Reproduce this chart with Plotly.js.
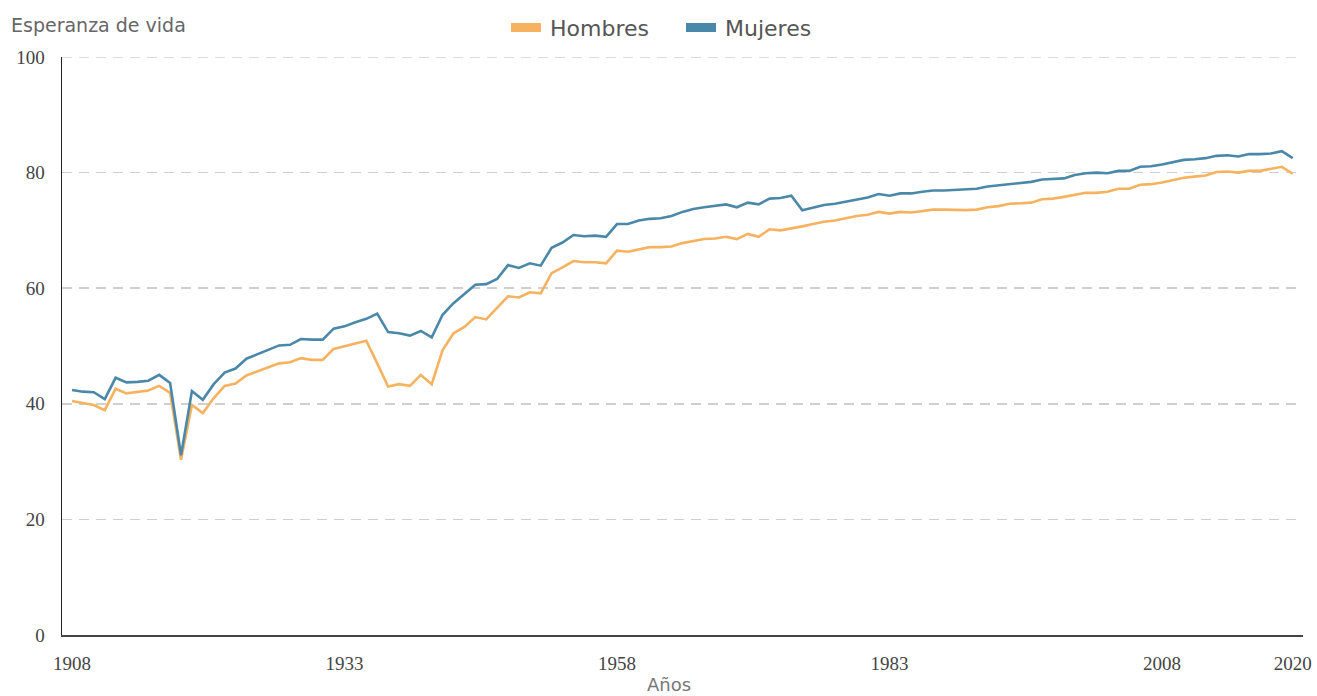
<!DOCTYPE html>
<html><head><meta charset="utf-8">
<script src="https://cdn.plot.ly/plotly-3.0.1.min.js"></script>
<style>html,body{margin:0;padding:0;background:#fff}#chart{width:1317px;height:696px}</style>
</head><body><div id="chart"></div>
<script>
const years = [1908,1909,1910,1911,1912,1913,1914,1915,1916,1917,1918,1919,1920,1921,1922,1923,1924,1925,1926,1927,1928,1929,1930,1931,1932,1933,1934,1935,1936,1937,1938,1939,1940,1941,1942,1943,1944,1945,1946,1947,1948,1949,1950,1951,1952,1953,1954,1955,1956,1957,1958,1959,1960,1961,1962,1963,1964,1965,1966,1967,1968,1969,1970,1971,1972,1973,1974,1975,1976,1977,1978,1979,1980,1981,1982,1983,1984,1985,1986,1987,1988,1989,1990,1991,1992,1993,1994,1995,1996,1997,1998,1999,2000,2001,2002,2003,2004,2005,2006,2007,2008,2009,2010,2011,2012,2013,2014,2015,2016,2017,2018,2019,2020];
const hombres = [40.5,40.1,39.8,38.9,42.6,41.8,42.0,42.3,43.1,41.9,30.3,39.8,38.4,41.0,43.1,43.5,44.9,45.6,46.3,47.0,47.2,47.9,47.6,47.6,49.5,50.0,50.4,50.9,47.0,43.0,43.4,43.1,45.0,43.4,49.3,52.2,53.3,55.0,54.6,56.6,58.6,58.4,59.3,59.1,62.6,63.6,64.7,64.5,64.5,64.3,66.5,66.3,66.7,67.1,67.1,67.2,67.8,68.2,68.5,68.6,68.9,68.5,69.4,68.9,70.2,70.0,70.3,70.7,71.1,71.5,71.7,72.1,72.5,72.7,73.2,72.9,73.2,73.1,73.4,73.6,73.6,73.5,73.5,73.6,74.0,74.2,74.6,74.7,74.8,75.4,75.5,75.8,76.2,76.5,76.5,76.7,77.2,77.2,77.9,78.0,78.3,78.7,79.1,79.3,79.5,80.1,80.2,80.0,80.3,80.3,80.6,81.0,79.8];
const mujeres = [42.4,42.1,42.0,40.8,44.5,43.7,43.8,44.0,45.0,43.6,31.1,42.2,40.7,43.4,45.4,46.1,47.8,48.6,49.3,50.1,50.2,51.2,51.1,51.1,53.0,53.4,54.1,54.7,55.6,52.4,52.2,51.8,52.6,51.5,55.4,57.4,59.0,60.6,60.7,61.6,64.0,63.5,64.3,63.9,67.0,67.9,69.2,69.0,69.1,68.9,71.1,71.1,71.7,72.0,72.1,72.5,73.2,73.7,74.0,74.2,74.5,74.0,74.8,74.5,75.5,75.6,76.0,73.5,74.0,74.4,74.6,75.0,75.4,75.7,76.3,76.0,76.4,76.4,76.7,76.9,76.9,77.0,77.0,77.2,77.6,77.8,78.1,78.3,78.4,78.8,78.9,79.0,79.6,79.9,80.0,79.9,80.3,80.3,81.0,81.1,81.4,81.8,82.2,82.3,82.5,82.9,83.0,82.8,83.2,83.2,83.3,83.7,82.5];
const xTickVals = [1908,1933,1958,1983,2008,2020];
const yTickVals = [0,20,40,60,80,100];
const seriesNames = ['Hombres','Mujeres'];
const seriesColors = ['#F6B25E','#4A88A9'];
const chartTitle = 'Esperanza de vida';
const xTitle = 'Años';

const W = 1317, H = 696;
const M = {l:62, r:14, t:57, b:61};
const pw = W - M.l - M.r, ph = H - M.t - M.b;
const px = x => (x - M.l) / pw;
const py = y => (H - M.b - y) / ph;

const traces = [hombres, mujeres].map((vals, i) => ({
  type: 'scatter', mode: 'lines', x: years, y: vals, name: seriesNames[i],
  line: {color: seriesColors[i], width: 2.6}, showlegend: false, hoverinfo: 'x+y'
}));

const sansFont = 'DejaVu Sans, sans-serif';
const tickFont = {family: 'Liberation Serif, serif', size: 19, color: '#444'};
const gridColor = '#cfcfcf', gridDash = '10px,7px';

const legendItems = [
  {rx: 511, tx: 548},
  {rx: 686, tx: 723}
];
const shapes = legendItems.map((it, i) => ({
  type: 'rect', xref: 'paper', yref: 'paper',
  x0: px(it.rx), x1: px(it.rx + 30), y0: py(32), y1: py(23),
  fillcolor: seriesColors[i], line: {width: 0}
}));
// top gridline (Plotly omits grid at the range edge)
shapes.push({
  type: 'line', xref: 'paper', yref: 'y', x0: 0, x1: 1,
  y0: yTickVals[yTickVals.length - 1], y1: yTickVals[yTickVals.length - 1],
  line: {color: gridColor, width: 1.5, dash: gridDash}, layer: 'below'
});
const annotations = legendItems.map((it, i) => ({
  xref: 'paper', yref: 'paper', x: px(it.tx), y: py(28), xanchor: 'left', yanchor: 'middle',
  text: seriesNames[i], showarrow: false, font: {family: sansFont, size: 22, color: '#555'}
}));
annotations.push({
  xref: 'paper', yref: 'paper', x: px(9), y: py(25), xanchor: 'left', yanchor: 'middle',
  text: chartTitle, showarrow: false, font: {family: sansFont, size: 19, color: '#666'}
});
annotations.push({
  xref: 'paper', yref: 'paper', x: px(669), y: py(684), xanchor: 'center', yanchor: 'middle',
  text: xTitle, showarrow: false, font: {family: sansFont, size: 18, color: '#777'}
});

const layout = {
  width: W, height: H, margin: M,
  paper_bgcolor: '#fff', plot_bgcolor: '#fff',
  showlegend: false,
  xaxis: {
    range: [1907.08, 2020.94], tickmode: 'array', tickvals: xTickVals,
    ticktext: xTickVals.map(String),
    showgrid: false, zeroline: false, showline: true, linecolor: '#444', linewidth: 1.5,
    ticks: 'outside', ticklen: 11, tickcolor: 'rgba(0,0,0,0)', tickfont: tickFont
  },
  yaxis: {
    range: [0, 100], tickmode: 'array', tickvals: yTickVals,
    ticktext: yTickVals.map(String),
    showgrid: true, gridcolor: gridColor, gridwidth: 1.5, griddash: gridDash,
    zeroline: false, showline: true, linecolor: '#222', linewidth: 1.5,
    ticks: 'outside', ticklen: 12, tickcolor: 'rgba(0,0,0,0)', tickfont: tickFont
  },
  shapes: shapes,
  annotations: annotations
};

Plotly.newPlot('chart', traces, layout, {displayModeBar: false, staticPlot: true});
</script>
</body></html>
